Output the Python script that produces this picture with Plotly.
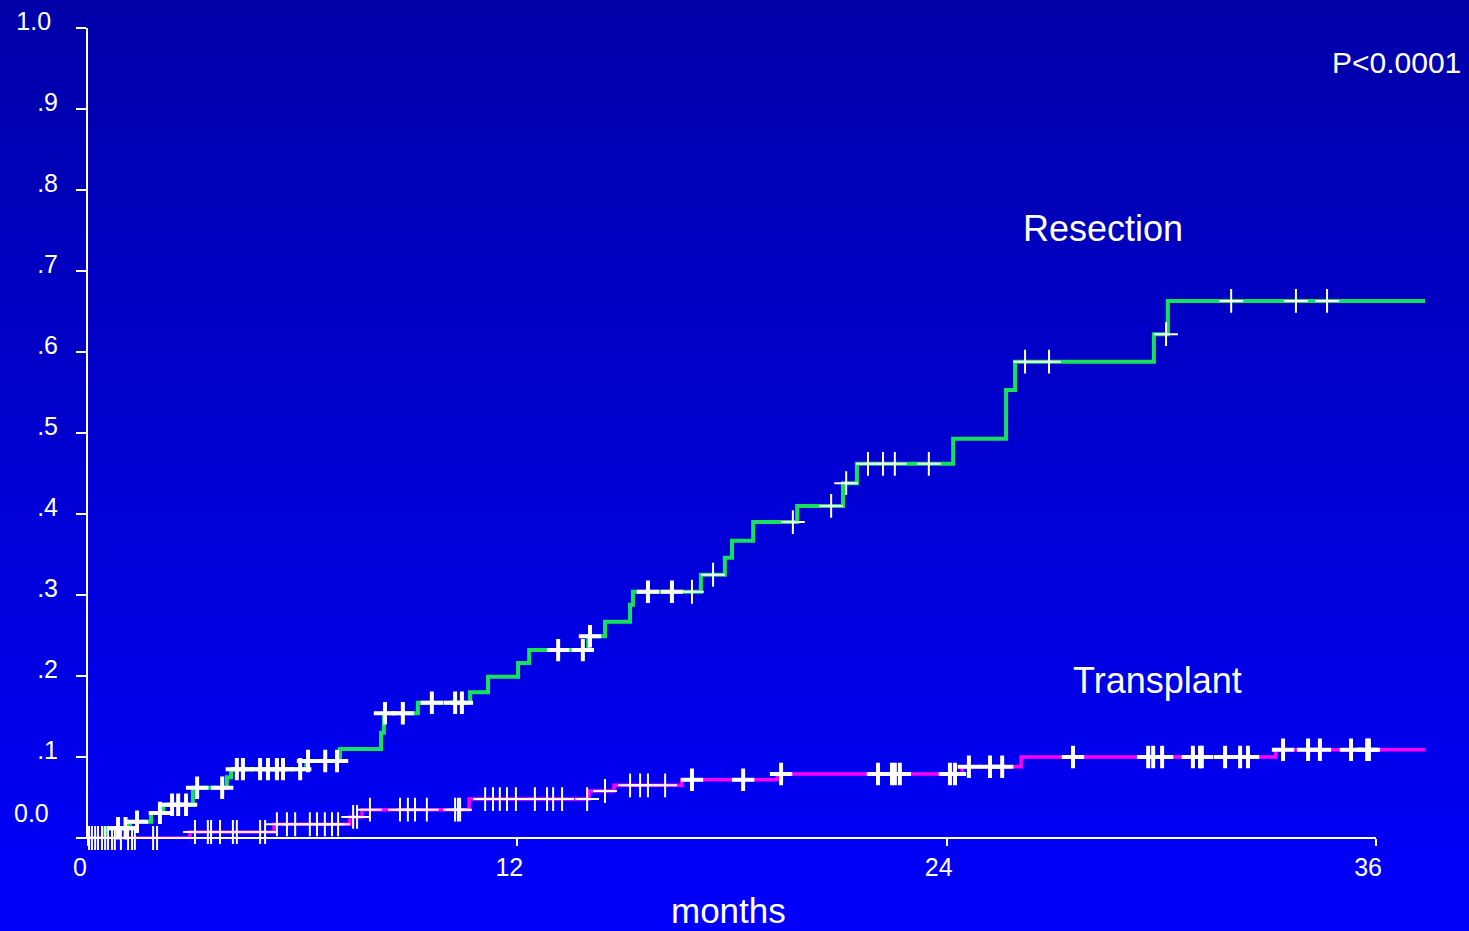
import numpy as np
import plotly.graph_objects as go

# ---------------- data ----------------
# Resection: cumulative incidence step function (time in months, value)
res_time = [0, 0.48, 1.17, 1.76, 2.10, 2.93, 3.88, 4.00, 6.10, 7.04, 8.19, 8.27, 9.22,
            10.68, 11.18, 12.02, 12.33, 13.98, 14.45, 15.15, 15.23, 17.13, 17.80, 18.00,
            18.59, 19.82, 21.10, 21.49, 24.18, 25.66, 25.91, 29.79, 30.18, 37.37]
res_value = [0, 0.012, 0.020, 0.031, 0.041, 0.062, 0.075, 0.085, 0.095, 0.110, 0.130,
             0.154, 0.167, 0.180, 0.199, 0.216, 0.232, 0.249, 0.267, 0.288, 0.304, 0.325,
             0.346, 0.367, 0.390, 0.410, 0.438, 0.462, 0.493, 0.553, 0.588, 0.622, 0.663, 0.663]
res_censored = [0.84, 1.05, 1.37, 2.01, 2.35, 2.52, 2.74, 3.05, 3.75, 4.16, 4.33, 4.81,
                5.03, 5.28, 5.45, 5.93, 6.15, 6.63, 6.96, 8.30, 8.80, 9.61, 10.26, 10.45,
                13.14, 13.83, 14.03, 15.65, 16.32, 16.88, 17.47, 19.70, 20.77, 21.19,
                21.80, 22.22, 22.55, 23.50, 26.19, 26.86, 30.13, 31.95, 33.76, 34.63]

# Transplant
tx_time = [0, 2.85, 5.20, 7.32, 7.66, 10.65, 14.00, 14.70, 16.60, 19.26, 24.43, 26.08, 33.20, 37.37]
tx_value = [0, 0.0074, 0.017, 0.026, 0.035, 0.048, 0.058, 0.065, 0.072, 0.079, 0.088,
            0.100, 0.109, 0.109]
tx_censored = [0.03, 0.11, 0.20, 0.28, 0.39, 0.48, 0.56, 0.67, 0.75, 0.92, 1.12, 1.23,
               1.31, 1.82, 1.93,
               2.99, 3.35, 3.44, 3.69, 4.05, 4.16, 4.81, 4.95,
               5.28, 5.56, 5.79, 6.20, 6.40, 6.62, 6.82, 6.99,
               7.41, 7.52,
               7.88, 8.72, 8.94, 9.14, 9.47, 10.26, 10.34, 10.40,
               11.10, 11.32, 11.51, 11.71, 11.96, 12.49, 12.83, 13.00, 13.25, 13.95,
               14.45,
               15.15, 15.43, 15.65, 16.13,
               16.88, 18.31,
               19.37, 22.08, 22.47, 22.55, 22.69, 24.09, 24.23,
               24.62, 25.21, 25.55,
               27.53, 29.63, 29.77, 30.02, 30.88, 31.08, 31.13, 31.78, 32.20, 32.42,
               33.40, 34.10, 34.43, 35.30, 35.75, 35.80]

x_ticks = [0, 12, 24, 36]
x_ticktext = ["0", "12", "24", "36"]
y_ticks = [0, 0.1, 0.2, 0.3, 0.4, 0.5, 0.6, 0.7, 0.8, 0.9, 1.0]
y_ticktext = ["", ".1", ".2", ".3", ".4", ".5", ".6", ".7", ".8", ".9", "1.0\u00a0"]

# ---------------- helpers ----------------
def step_value(times, values, t):
    idx = np.searchsorted(np.array(times), np.array(t), side="right") - 1
    return np.array(values)[idx]

FONT = "Liberation Sans, Arial, sans-serif"
W, H = 1469, 931
ML, MR, MT, MB = 88, 29, 28, 93
PX_PER_MONTH = 35.78
plot_w = W - ML - MR
plot_h = H - MT - MB

GREEN = "#17E05A"
MAGENTA = "#FF00FF"

fig = go.Figure()

fig.add_trace(go.Scatter(x=res_time, y=res_value, mode="lines", line_shape="hv",
                         line=dict(color=GREEN, width=4), hoverinfo="skip", showlegend=False))
fig.add_trace(go.Scatter(x=tx_time, y=tx_value, mode="lines", line_shape="hv",
                         line=dict(color=MAGENTA, width=3.5), hoverinfo="skip", showlegend=False))

res_c = np.array(res_censored)
res_cy = step_value(res_time, res_value, res_c)
tx_c = np.array(tx_censored)
tx_cy = step_value(tx_time, tx_value, tx_c)

SPLIT = 16.5
bold = dict(symbol="cross-thin", size=16, line=dict(color="white", width=4))
thin = dict(symbol="cross-thin", size=17, line=dict(color="white", width=2))

for xs, ys, mk in [
    (res_c[res_c < SPLIT], res_cy[res_c < SPLIT], bold),
    (res_c[res_c >= SPLIT], res_cy[res_c >= SPLIT], thin),
    (tx_c[tx_c < SPLIT], tx_cy[tx_c < SPLIT], thin),
    (tx_c[tx_c >= SPLIT], tx_cy[tx_c >= SPLIT], bold),
]:
    fig.add_trace(go.Scatter(x=xs, y=ys, mode="markers", marker=mk, cliponaxis=False,
                             hoverinfo="skip", showlegend=False))

# gradient background bands
shapes = []
N = 80
x0p = -ML / plot_w
x1p = (W - ML) / plot_w
for i in range(N):
    top_px = H * i / N - (3 if i == 0 else 0)
    bot_px = H * (i + 1) / N + (3 if i == N - 1 else 0)
    frac = (i + 0.5) / N
    b = int(round(168 + (252 - 168) * frac))
    y_top = (H - MB - top_px) / plot_h
    y_bot = (H - MB - bot_px) / plot_h
    shapes.append(dict(type="rect", xref="paper", yref="paper", x0=x0p, x1=x1p,
                       y0=y_bot, y1=y_top + 0.002, line=dict(width=0),
                       fillcolor=f"rgb(0,0,{b})", layer="below"))
# x axis line from 0 to 36 months
shapes.append(dict(type="line", xref="x", yref="paper", x0=0, x1=36, y0=0, y1=0,
                   line=dict(color="white", width=2), layer="above"))

annotations = [
    dict(text="P<0.0001", x=1.017, y=0.957, xref="paper", yref="paper", xanchor="right",
         yanchor="middle", showarrow=False,
         font=dict(family=FONT, size=30, color="white")),
    dict(text="Resection", x=28.37, y=0.753, xref="x", yref="y", xanchor="center",
         yanchor="middle", showarrow=False,
         font=dict(family=FONT, size=36, color="white")),
    dict(text="Transplant", x=29.88, y=0.195, xref="x", yref="y", xanchor="center",
         yanchor="middle", showarrow=False,
         font=dict(family=FONT, size=36, color="white")),
    dict(text="months", x=17.9, y=-0.089, xref="x", yref="paper", xanchor="center",
         yanchor="middle", showarrow=False, font=dict(family=FONT, size=35, color="white")),
    dict(text="0.0", x=0, y=0, xref="paper", yref="paper", xanchor="right", yanchor="middle",
         xshift=-37, yshift=25, showarrow=False, font=dict(family=FONT, size=25, color="white")),
]

fig.update_layout(
    template="none",
    width=W, height=H,
    margin=dict(l=ML, r=MR, t=MT, b=MB, pad=0, autoexpand=False),
    paper_bgcolor="rgb(0,0,168)",
    plot_bgcolor="rgba(0,0,0,0)",
    font=dict(family=FONT, size=25, color="white"),
    shapes=shapes,
    annotations=annotations,
    showlegend=False,
)
fig.update_xaxes(range=[0, plot_w / PX_PER_MONTH], tickvals=x_ticks, ticktext=x_ticktext,
                 ticks="outside", ticklen=7, tickwidth=2, tickcolor="white",
                 showline=False, showgrid=False, zeroline=False, automargin=False,
                 tickfont=dict(family=FONT, size=25, color="white"),
                 ticklabelshift=-8, ticklabelstandoff=0)
fig.update_yaxes(range=[0, 1.0], tickvals=y_ticks, ticktext=y_ticktext,
                 ticks="outside", ticklen=10, tickwidth=2, tickcolor="white",
                 showline=True, linecolor="white", linewidth=2,
                 showgrid=False, zeroline=False, automargin=False,
                 tickfont=dict(family=FONT, size=25, color="white"),
                 ticklabelshift=-7, ticklabelstandoff=13)

fig.write_html("out.html", config={"displayModeBar": False},
               post_script="document.body.style.margin='0';document.body.style.overflow='hidden';")
